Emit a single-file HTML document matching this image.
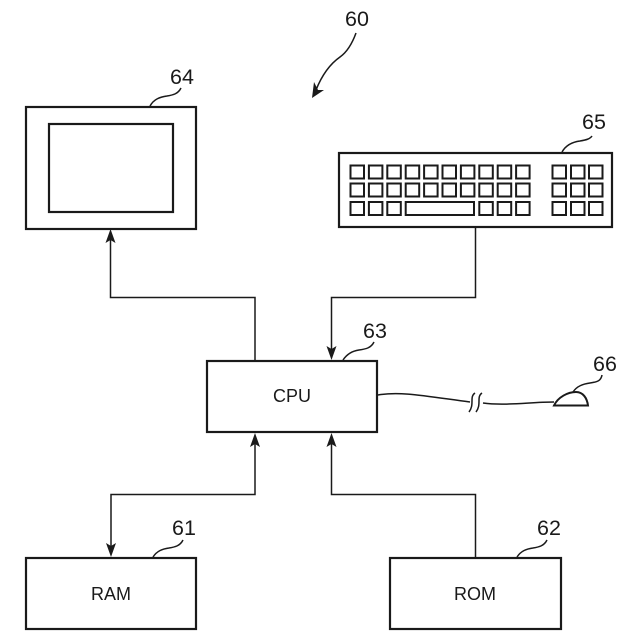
<!DOCTYPE html>
<html>
<head>
<meta charset="utf-8">
<style>
html,body{margin:0;padding:0;background:#fff;}
svg{display:block;}
text{font-family:"Liberation Sans",sans-serif;fill:#1a1a1a;}
.n{font-size:21.5px;}
.l{font-size:18px;text-anchor:middle;}
.b{fill:none;stroke:#1a1a1a;stroke-width:2.2;}
.k{fill:none;stroke:#1a1a1a;stroke-width:2;}
.c{fill:none;stroke:#1a1a1a;stroke-width:1.5;}
.a{fill:#1a1a1a;stroke:none;}
</style>
</head>
<body>
<svg width="640" height="640" viewBox="0 0 640 640" xmlns="http://www.w3.org/2000/svg">
<rect x="0" y="0" width="640" height="640" fill="#fff"/>
<!-- boxes -->
<rect class="b" x="26" y="107" width="170" height="122"/>
<rect class="b" x="49" y="124" width="124" height="88"/>
<rect class="b" x="339" y="153" width="273" height="74"/>
<rect class="b" x="207" y="361" width="170" height="71"/>
<rect class="b" x="26" y="558" width="170" height="71"/>
<rect class="b" x="390" y="558" width="171" height="71"/>
<!-- keys -->
<g class="k">
<rect x="350.500" y="165.500" width="13.500" height="13"/><rect x="368.900" y="165.500" width="13.500" height="13"/><rect x="387.300" y="165.500" width="13.500" height="13"/><rect x="405.700" y="165.500" width="13.500" height="13"/><rect x="424.100" y="165.500" width="13.500" height="13"/><rect x="442.500" y="165.500" width="13.500" height="13"/><rect x="460.900" y="165.500" width="13.500" height="13"/><rect x="479.300" y="165.500" width="13.500" height="13"/><rect x="497.700" y="165.500" width="13.500" height="13"/><rect x="516.100" y="165.500" width="13.500" height="13"/>
<rect x="350.500" y="183.500" width="13.500" height="13"/><rect x="368.900" y="183.500" width="13.500" height="13"/><rect x="387.300" y="183.500" width="13.500" height="13"/><rect x="405.700" y="183.500" width="13.500" height="13"/><rect x="424.100" y="183.500" width="13.500" height="13"/><rect x="442.500" y="183.500" width="13.500" height="13"/><rect x="460.900" y="183.500" width="13.500" height="13"/><rect x="479.300" y="183.500" width="13.500" height="13"/><rect x="497.700" y="183.500" width="13.500" height="13"/><rect x="516.100" y="183.500" width="13.500" height="13"/>
<rect x="350.500" y="202" width="13.500" height="13"/><rect x="368.900" y="202" width="13.500" height="13"/><rect x="387.300" y="202" width="13.500" height="13"/><rect x="405.700" y="202" width="68.300" height="13"/><rect x="479.300" y="202" width="13.500" height="13"/><rect x="497.700" y="202" width="13.500" height="13"/><rect x="516.100" y="202" width="13.500" height="13"/>
<rect x="552.500" y="165.500" width="13.500" height="13"/><rect x="571" y="165.500" width="13.500" height="13"/><rect x="589" y="165.500" width="13.500" height="13"/>
<rect x="552.500" y="183.500" width="13.500" height="13"/><rect x="571" y="183.500" width="13.500" height="13"/><rect x="589" y="183.500" width="13.500" height="13"/>
<rect x="552.500" y="202" width="13.500" height="13"/><rect x="571" y="202" width="13.500" height="13"/><rect x="589" y="202" width="13.500" height="13"/>
</g>
<!-- connectors -->
<path class="c" d="M255 360V297.500H110.500V240"/>
<path class="a" d="M110.500 229L115.500 243L110.500 240L105.500 243Z"/>
<path class="c" d="M475.500 228V297.500H331.500V350"/>
<path class="a" d="M331.500 360L336.500 346L331.500 349L326.500 346Z"/>
<path class="c" d="M255 443V494.500H111V547"/>
<path class="a" d="M255 433L260 447L255 444L250 447Z"/>
<path class="a" d="M111 557L116 543L111 546L106 543Z"/>
<path class="c" d="M331.500 443V494.500H475.500V557"/>
<path class="a" d="M331.500 433L336.500 447L331.500 444L326.500 447Z"/>
<!-- leaders -->
<path class="c" d="M150 106C154 99 160 97 167 96C173 95 178 94 181 88"/>
<path class="c" d="M562 152C566 145 572 142 580 141C586 140 590 139 592 136"/>
<path class="c" d="M343 360C347 354 352 351 359 350C366 349 371 348 374 342"/>
<path class="c" d="M153 557C157 551 162 549 169 548C175 547 180 546 183 540"/>
<path class="c" d="M517 557C521 551 526 549 533 548C539 547 544 546 547 540"/>
<path class="c" d="M573 392C577 386 583 384 590 383C597 382 601 381 602 375"/>
<path class="c" d="M356 33C352 44 347 52 340 57C330 64 322 75 316 90"/>
<path class="a" d="M312 98L314 82L318 90L324 90Z"/>
<!-- mouse cable -->
<path class="c" d="M378 395C400 391 425 396 470 402"/>
<path class="c" d="M483 403C505 406 530 402 554 402"/>
<path class="c" d="M475 393C469 397 475 404 469 412"/>
<path class="c" d="M482 393C476 397 482 404 476 412"/>
<path d="M554 405.500C558 397 568 392 576 392C583 392 587 398 588 405.500Z" fill="#fff" stroke="#1a1a1a" stroke-width="2"/>
<!-- labels -->
<text class="l" x="292" y="402">CPU</text>
<text class="l" x="111" y="600">RAM</text>
<text class="l" x="475" y="600">ROM</text>
<text class="n" x="345" y="26">60</text>
<text class="n" x="170" y="84">64</text>
<text class="n" x="582" y="129">65</text>
<text class="n" x="363" y="338">63</text>
<text class="n" x="593" y="371">66</text>
<text class="n" x="172" y="535">61</text>
<text class="n" x="537" y="535">62</text>
</svg>
</body>
</html>
